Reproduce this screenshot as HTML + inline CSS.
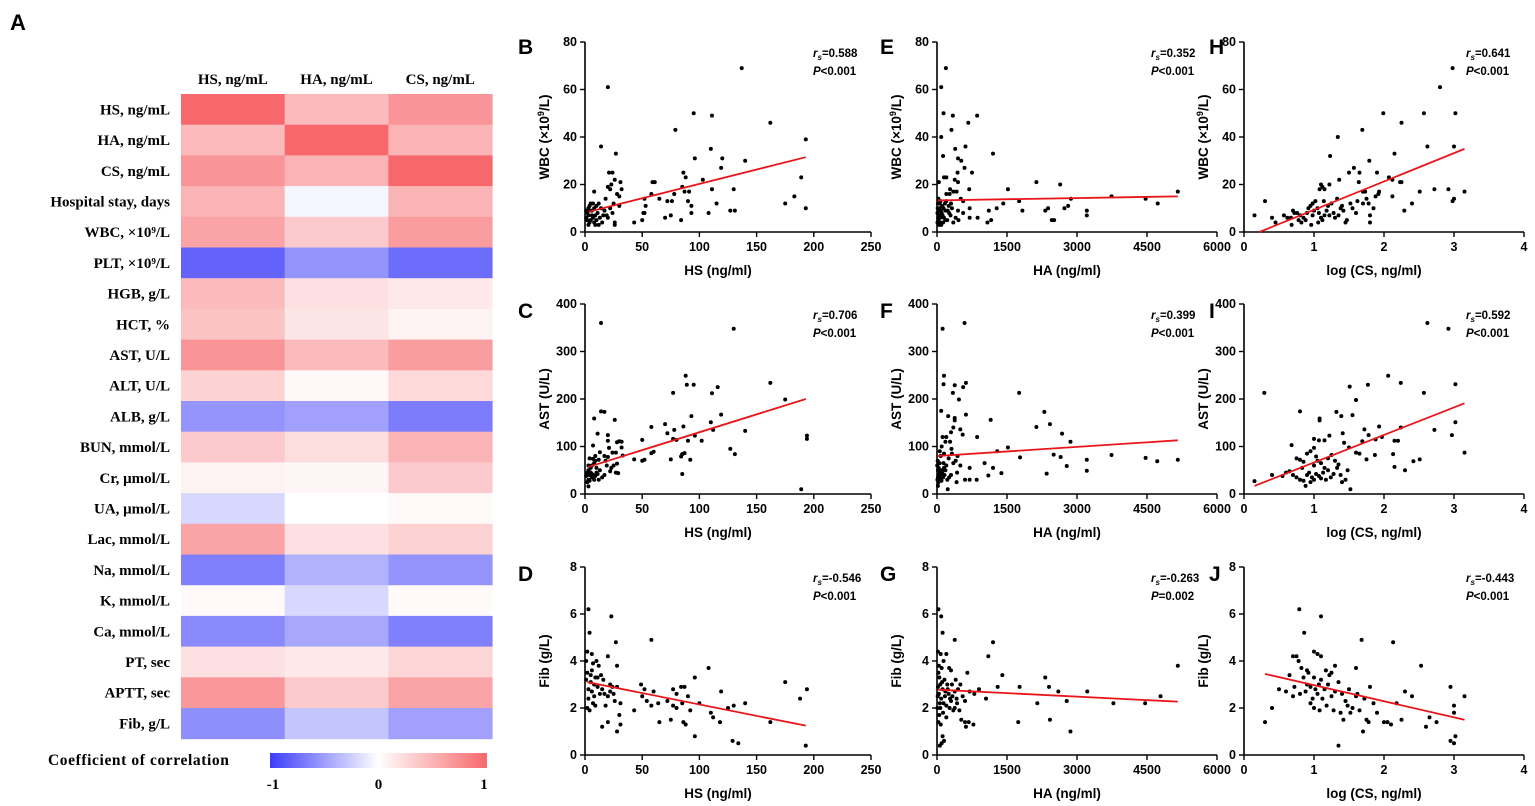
<!DOCTYPE html>
<html><head><meta charset="utf-8">
<style>
html,body{margin:0;padding:0;background:#fff;}
svg{display:block;}
</style></head>
<body>
<svg id="fig" width="1535" height="806" viewBox="0 0 1535 806" xmlns="http://www.w3.org/2000/svg"></svg>
<script>
// ===== Heatmap data =====
const heatCols = ["HS, ng/mL","HA, ng/mL","CS, ng/mL"];
const heatRows = ["HS, ng/mL","HA, ng/mL","CS, ng/mL","Hospital stay, days","WBC, \u00d710\u2079/L","PLT, \u00d710\u2079/L","HGB, g/L","HCT, %","AST, U/L","ALT, U/L","ALB, g/L","BUN, mmol/L","Cr, \u03bcmol/L","UA, \u03bcmol/L","Lac, mmol/L","Na, mmol/L","K, mmol/L","Ca, mmol/L","PT, sec","APTT, sec","Fib, g/L"];
const heatHS = [1,0.45,0.7,0.5,0.6,-0.8,0.45,0.4,0.7,0.3,-0.55,0.35,0.08,-0.2,0.6,-0.65,0.04,-0.6,0.2,0.68,-0.58];
const heatHA = [0.45,1,0.5,-0.05,0.35,-0.55,0.2,0.17,0.45,0.05,-0.48,0.22,0.06,0,0.2,-0.4,-0.2,-0.45,0.15,0.35,-0.3];
const heatCS = [0.7,0.5,1,0.5,0.65,-0.75,0.15,0.08,0.65,0.25,-0.67,0.5,0.35,0.04,0.3,-0.55,0.04,-0.65,0.28,0.6,-0.48];
const cbarTicks = [-1,0,1];

// ===== Scatter data =====
const bX=[137,20,95,111,162,79,193,14,27,110,96,120,140,119,26,21,24,103,86,88,85,189,59,61,31,32,23,20,22,58,78,87,91,111,130,183,175,115,65,52,30,25,8,12,18,10,5,3,2,4,6,7,5,8,9,3,1,2,4,6,8,11,13,15,17,19,22,26,26,30,43,50,51,53,52,70,75,72,76,84,90,93,93,108,127,131,193,9,4,1,7,10,14,16,12,20,24,28,3];
const bY=[69,61,50,49,46,43,39,36,33,35,31,31,30,27,22,25,25,22,25,23,19,23,21,21,21,18,20,19,18,16,16,17,17,18,18,15,12,12,14,14,15,12,17,12,14,11,12,10,8,9,7,6,5,4,3,7,6,5,4,9,10,8,6,4,9,7,10,4,3,11,4,5,8,11,8,6,7,13,13,5,13,8,11,8,9,9,10,7,11,9,12,5,10,7,3,6,8,16,3];
const cX=[14,130,88,89,95,162,77,111,116,175,14,17,119,93,8,26,70,86,58,110,78,112,140,72,11,20,194,194,30,32,28,50,77,80,90,96,102,20,7,32,21,127,13,24,27,60,58,85,87,131,17,20,33,43,50,52,75,92,84,4,7,9,12,19,25,28,85,189,5,3,2,4,6,8,3,2,3,5,7,9,10,11,12,15,17,22,27,29,6,8,10,1,4,6,13,18,23,3,9];
const cY=[360,348,249,230,230,234,213,212,225,199,174,173,167,164,159,156,147,142,141,151,135,135,133,128,127,124,123,116,111,110,109,114,116,114,112,123,112,112,102,98,97,95,88,87,87,89,86,84,86,84,80,78,81,73,70,72,73,72,79,75,74,70,72,60,60,64,42,10,55,50,45,40,35,30,30,25,16,45,40,38,45,42,30,35,40,48,45,44,60,65,55,38,28,42,50,70,55,60,80];
const dX=[3,23,4,58,27,2,6,10,20,1,7,12,28,108,175,96,2,5,9,14,16,8,11,22,24,28,49,52,60,84,87,119,194,77,80,90,3,6,13,17,20,26,31,50,54,58,64,72,77,80,85,92,100,110,112,118,125,130,140,162,188,2,4,7,15,20,30,31,28,43,65,75,86,88,96,129,134,193,5,8,11,15,18,22,1,3,6,9,25];
const dY=[6.2,5.9,5.2,4.9,4.8,4.4,4.3,4.0,4.2,4.0,3.9,3.8,3.8,3.7,3.1,3.3,3.5,3.4,3.3,3.4,3.2,3.0,2.9,3.0,2.9,2.9,3.0,2.8,2.7,2.9,2.9,2.7,2.8,2.8,2.6,2.5,2.8,2.7,2.6,2.6,2.5,2.3,2.2,2.5,2.3,2.1,2.2,2.3,2.1,2.0,2.2,1.9,2.2,1.8,1.6,1.4,2.0,2.1,2.2,1.4,2.4,2.0,1.9,2.2,1.2,1.4,1.7,1.3,1.0,1.9,1.4,1.5,1.4,1.3,0.8,0.6,0.5,0.4,3.1,2.5,3.3,2.8,2.1,2.7,3.2,2.4,3.6,2.1,2.6];
const eX=[190,90,140,340,860,670,310,90,130,390,610,450,520,1200,750,440,590,150,200,40,450,380,690,1520,2130,2640,5160,280,350,270,420,510,560,3740,4470,4730,2870,1760,1420,1280,1110,1830,2320,2380,2730,2810,3210,3210,2460,2510,1080,1160,870,700,700,560,450,400,350,460,20,50,80,100,120,150,180,30,60,90,10,40,70,110,140,170,200,230,260,290,320,30,60,15,25,45,35,75,200,250,300,10,130,220,180];
const eY=[69,61,50,49,49,46,43,40,32,35,36,31,30,33,25,25,27,23,23,21,21,22,18,18,21,20,17,18,17,16,17,14,13,15,14,12,14,13,12,10,9,9,9,10,10,11,9,7,5,5,4,5,6,6,10,8,9,6,4,5,12,10,9,8,7,6,5,5,4,3,8,7,6,11,10,12,13,9,8,7,10,14,12,10,6,3,9,13,16,11,12,4,4,5,9];
const fX=[590,120,150,140,380,340,620,1760,560,470,90,2300,380,620,240,2420,2130,380,1150,350,500,550,860,1520,2680,2860,300,200,120,100,80,1290,1020,1780,2500,2650,2780,3210,3210,3740,4470,4720,5160,1380,1100,2350,1200,700,850,600,700,420,230,430,400,320,250,200,150,100,60,40,20,10,30,50,70,90,110,130,160,180,220,260,300,20,5,15,35,55,75,150,280,310,440,500,350,180,140,60,20,45,95];
const fY=[360,348,249,231,229,213,234,213,225,199,175,173,160,167,164,147,141,155,156,140,136,125,120,98,127,110,130,120,120,100,80,90,65,77,83,78,59,72,49,82,76,69,72,44,39,43,55,55,30,30,30,25,10,45,70,85,75,60,55,50,45,40,35,30,25,30,35,40,45,35,40,50,30,35,40,17,60,70,55,65,50,85,110,95,80,60,65,110,65,90,50,35,28];
const gX=[30,90,120,380,1200,1100,5160,20,80,200,140,260,650,1400,2320,30,100,300,50,160,400,1300,1770,2400,2600,3220,900,500,220,70,120,180,250,330,420,550,600,800,1050,2150,2780,3780,4460,4790,40,90,140,200,270,350,430,480,520,600,620,680,780,1740,2420,2860,30,80,120,150,100,60,10,20,60,110,170,230,300,380,450,40,70,130,200,280,320,15,50,380,700];
const gY=[6.2,5.9,5.2,4.9,4.8,4.2,3.8,4.4,4.3,4.3,4.0,3.7,3.5,3.4,3.3,3.5,3.7,3.6,3.3,3.2,3.2,2.9,2.9,2.9,2.7,2.7,2.8,3.0,3.0,3.0,2.8,2.7,2.6,2.5,2.4,2.5,2.3,2.6,2.4,2.2,2.3,2.2,2.2,2.5,2.6,2.4,2.2,2.1,2.0,1.9,2.2,1.9,1.5,1.4,1.2,1.4,1.3,1.4,1.5,1.0,1.4,1.3,0.8,0.6,0.5,0.4,2.0,2.9,2.2,3.1,2.5,2.8,2.3,2.7,2.8,3.8,2.0,1.8,1.6,2.4,3.0,2.5,1.7,2.0,2.7];
const hX=[2.98,2.8,1.99,2.57,3.02,2.25,1.69,1.34,2.62,3.0,1.23,1.79,2.15,1.57,1.5,1.65,1.9,1.36,1.64,2.07,2.12,2.23,2.25,1.22,1.1,1.12,1.08,1.15,1.7,1.73,1.92,1.93,2.12,2.51,2.72,2.92,3.15,3.0,2.98,2.4,2.29,0.3,0.15,0.4,0.45,0.57,0.67,0.68,0.7,0.76,0.8,0.85,0.9,0.92,0.95,0.98,1.0,1.02,1.05,1.07,1.1,1.12,1.15,1.18,1.2,1.25,1.28,1.3,1.33,1.38,1.42,1.45,1.47,1.52,1.6,1.62,1.75,1.78,1.8,1.8,1.85,1.88,0.82,0.88,0.96,1.06,0.72,0.78,0.62,1.14,1.22,1.35,1.4,1.55,1.7,0.98];
const hY=[69,61,50,50,50,46,43,40,36,36,32,30,33,27,25,25,25,22,21,23,22,21,21,20,20,19,18,18,17,17,16,17,15,17,18,18,17,14,13,12,9,13,7,6,4,7,6,3,9,8,7,6,8,10,11,12,9,13,10,8,6,5,7,9,11,12,8,6,14,10,9,4,5,12,8,13,14,12,7,4,10,15,4,5,3,4,8,5,6,13,7,7,11,10,12,7];
const iX=[2.62,2.92,2.06,2.24,3.02,1.77,1.51,2.57,0.29,1.6,0.8,1.32,1.39,1.55,1.08,1.08,1.93,2.24,1.72,1.41,1.22,1.97,2.72,3.02,2.97,1.0,1.07,1.15,1.69,2.15,2.2,1.43,1.78,1.88,0.68,1.0,0.95,0.9,1.25,1.5,1.6,1.65,1.87,2.13,3.15,0.75,0.8,0.85,1.03,1.05,1.1,1.2,1.3,1.35,1.75,2.42,2.51,0.15,0.4,0.55,0.65,0.7,0.75,0.8,0.85,0.88,0.9,0.93,0.97,1.0,1.03,1.07,1.1,1.13,1.17,1.2,1.24,1.28,1.33,1.38,1.45,1.48,1.52,1.4,2.15,2.3,0.6,0.83,1.0,1.15,0.95];
const iY=[360,348,249,234,231,230,226,213,213,198,174,173,164,166,159,155,142,140,136,128,123,120,135,151,124,116,113,113,111,112,112,108,124,115,103,97,90,85,82,98,87,85,82,84,87,75,72,68,79,70,65,75,70,62,73,69,73,27,40,38,48,40,35,30,28,17,40,45,35,30,42,38,33,45,30,50,35,42,55,40,30,50,10,25,57,50,45,55,60,55,25];
const jX=[0.79,1.1,0.86,1.68,2.13,1.0,1.05,0.7,0.75,1.1,0.78,0.82,0.9,1.3,2.53,1.25,1.6,0.3,0.4,0.5,0.6,0.7,0.8,0.85,0.9,0.95,1.0,1.05,1.1,1.15,1.2,1.25,1.3,1.35,1.4,1.45,1.5,1.55,1.6,1.65,1.7,1.72,1.75,1.8,1.85,1.9,2.0,2.05,2.1,2.18,2.25,2.3,2.4,2.6,2.65,2.75,2.95,3.0,3.0,2.95,3.0,3.02,3.15,1.35,0.95,1.0,1.02,1.08,1.12,1.18,1.22,1.28,1.38,1.42,1.48,0.88,0.92,0.98,1.07,1.17,1.52,1.62,1.78,0.72,0.65];
const jY=[6.2,5.9,5.2,4.9,4.8,4.4,4.3,4.2,4.2,4.2,4.0,3.7,3.6,3.8,3.8,3.5,3.7,1.4,2.0,2.8,2.7,2.5,2.6,3.3,3.0,2.9,3.3,2.6,3.2,2.8,3.0,2.5,2.7,3.1,2.6,2.3,2.8,2.0,2.5,1.9,1.0,2.4,1.5,2.9,2.2,1.8,1.4,1.4,1.3,2.2,1.5,2.7,2.5,1.2,1.6,1.4,2.9,2.1,1.8,0.6,0.5,0.8,2.5,0.4,2.2,2.0,2.8,1.9,2.4,2.1,3.4,1.9,1.8,1.5,2.1,2.7,3.5,2.4,3.0,3.6,1.8,2.6,1.4,2.9,3.4];
// regression line endpoints [x0,y0,x1,y1] in data units
const fitB=[3,8.5,193,31.5], fitC=[3,57,193,200], fitD=[2,3.1,193,1.25];
const fitE=[20,13.3,5160,15.0], fitF=[20,80,5160,113], fitG=[20,2.78,5160,2.27];
const fitH=[0.22,0,3.15,35], fitI=[0.15,17,3.15,191], fitJ=[0.3,3.45,3.15,1.5];
const ticksHS=[0,50,100,150,200,250], ticksHA=[0,1500,3000,4500,6000], ticksCS=[0,1,2,3,4];
const ticksWBC=[0,20,40,60,80], ticksAST=[0,100,200,300,400], ticksFib=[0,2,4,6,8];
const statR=["0.588","0.706","-0.546","0.352","0.399","-0.263","0.641","0.592","-0.443"];
const statP=["<0.001","<0.001","<0.001","<0.001","<0.001","=0.002","<0.001","<0.001","<0.001"];

const NS="http://www.w3.org/2000/svg";
const svg=document.getElementById('fig');
function mk(tag,attrs,parent){const e=document.createElementNS(NS,tag);for(const k in attrs)e.setAttribute(k,attrs[k]);(parent||svg).appendChild(e);return e;}
function txt(s,attrs,parent){const e=mk('text',attrs,parent);e.textContent=s;return e;}

// ===== Heatmap =====
function heatColor(v){
  let r,g,b;
  if(v>=0){r=255+(246-255)*v;g=255+(104-255)*v;b=255+(108-255)*v;}
  else{const t=-v;r=255+(60-255)*t;g=255+(60-255)*t;b=255+(250-255)*t;}
  return `rgb(${Math.round(r)},${Math.round(g)},${Math.round(b)})`;
}
const HX0=181, HW=103.7, HY0=94, HH=30.7;
const serif='"Liberation Serif", serif';
const heatG=mk('g',{});


txt('A',{x:10,y:30,'font-family':'"Liberation Sans", sans-serif','font-weight':'bold','font-size':22},svg);
const heatVals=[heatHS,heatHA,heatCS];
heatCols.forEach((c,ci)=>{
  const t=txt(c,{x:HX0+HW*(ci+0.5),y:84,'text-anchor':'middle','font-family':serif,'font-weight':'bold','font-size':15},heatG);
  
  
});
heatRows.forEach((r,ri)=>{
  const t=txt(r,{x:170,y:HY0+HH*ri+HH/2+5,'text-anchor':'end','font-family':serif,'font-weight':'bold','font-size':15},heatG);
  
  
  heatVals.forEach((arr,ci)=>{
    const rc=mk('rect',{x:HX0+HW*ci,y:HY0+HH*ri,width:HW+0.5,height:HH+0.5,fill:heatColor(arr[ri])},heatG);
    
    
  });
});
// colorbar
const defs=mk('defs',{});
const lg=mk('linearGradient',{id:'cb',x1:0,x2:1,y1:0,y2:0},defs);
[-1,-0.5,0,0.5,1].forEach(v=>mk('stop',{offset:((v+1)/2*100)+'%','stop-color':heatColor(v)},lg));
const cbX0=270,cbX1=487;
const cb=mk('rect',{x:cbX0,y:753,width:cbX1-cbX0,height:15,fill:'url(#cb)'});


const cbt=txt('Coefficient of correlation',{x:48,y:765,'font-family':serif,'font-weight':'bold','font-size':15.5,'letter-spacing':0.6});


cbarTicks.forEach(v=>{
  const t=txt(String(v),{x:cbX0+(v+1)/2*(cbX1-cbX0-6)+3,y:789,'text-anchor':'middle','font-family':serif,'font-weight':'bold','font-size':15});
  
  
});

// ===== Scatter panels =====
const sans='"Liberation Sans", sans-serif';
function panel(cfg){
  const g=mk('g',{});
  
  
  const xmin=cfg.xt[0],xmax=cfg.xt[cfg.xt.length-1],ymin=cfg.yt[0],ymax=cfg.yt[cfg.yt.length-1];
  const sx=v=>cfg.x0+(v-xmin)/(xmax-xmin)*(cfg.x1-cfg.x0);
  const sy=v=>cfg.yb-(v-ymin)/(ymax-ymin)*(cfg.yb-cfg.yt0);
  const lbl=txt(cfg.letter,{x:cfg.lx,y:cfg.ly,'font-family':sans,'font-weight':'bold','font-size':21},g);
  
  
  const ax=mk('path',{d:`M${cfg.x0},${cfg.yt0}V${cfg.yb}H${cfg.x1}`,fill:'none',stroke:'#000','stroke-width':1.6},g);
  
  
  cfg.xt.forEach(v=>{
    mk('line',{x1:sx(v),x2:sx(v),y1:cfg.yb,y2:cfg.yb+5,stroke:'#000','stroke-width':1.4},g);
    const t=txt(String(v),{x:sx(v),y:cfg.yb+19,'text-anchor':'middle','font-family':sans,'font-weight':'bold','font-size':12.5},g);
    
    
  });
  cfg.yt.forEach(v=>{
    mk('line',{x1:cfg.x0-5,x2:cfg.x0,y1:sy(v),y2:sy(v),stroke:'#000','stroke-width':1.4},g);
    const t=txt(String(v),{x:cfg.x0-8,y:sy(v)+4,'text-anchor':'end','font-family':sans,'font-weight':'bold','font-size':12.5},g);
    
    
  });
  const xt=txt(cfg.xlab,{x:(cfg.x0+cfg.x1)/2-10,y:cfg.yb+43,'text-anchor':'middle','font-family':sans,'font-weight':'bold','font-size':13.5},g);
  
  
  const ycx=cfg.x0-36, ycy=(cfg.yt0+cfg.yb)/2;
  const yt=mk('text',{x:ycx,y:ycy,transform:`rotate(-90 ${ycx} ${ycy})`,'text-anchor':'middle','font-family':sans,'font-weight':'bold','font-size':13.5},g);
  
  
  if(cfg.sup){
    const a=mk('tspan',{},yt);a.textContent=cfg.ylab[0];
    const b=mk('tspan',{dy:-5,'font-size':9},yt);b.textContent=cfg.sup;
    const c=mk('tspan',{dy:5},yt);c.textContent=cfg.ylab[1];
  } else yt.textContent=cfg.ylab;
  cfg.xs.forEach((xv,i)=>{
    const d=mk('circle',{cx:sx(xv),cy:sy(cfg.ys[i]),r:2,fill:'#000'},g);
    
    
  });
  const f=cfg.fit;
  const ln=mk('line',{x1:sx(f[0]),y1:sy(f[1]),x2:sx(f[2]),y2:sy(f[3]),stroke:'#e8161b','stroke-width':1.8},g);
  
  
  const sxp=cfg.x1-cfg.so;
  const s1=mk('text',{x:sxp,y:cfg.yt0+15,'font-family':sans,'font-weight':'bold','font-size':11.5},g);
  
  
  const r1=mk('tspan',{'font-style':'italic'},s1);r1.textContent='r';
  const r2=mk('tspan',{'font-style':'italic','font-size':8,dy:3},s1);r2.textContent='s';
  const r3=mk('tspan',{dy:-3},s1);r3.textContent='='+statR[cfg.idx];
  const s2=mk('text',{x:sxp,y:cfg.yt0+33,'font-family':sans,'font-weight':'bold','font-size':11.5},g);
  
  
  const p1=mk('tspan',{'font-style':'italic'},s2);p1.textContent='P';
  const p2=mk('tspan',{},s2);p2.textContent=statP[cfg.idx];
}
const cols=[{x0:585,x1:871,lx:518,so:58},{x0:937,x1:1217,lx:880,so:66},{x0:1244,x1:1524,lx:1209,so:58}];
const rows=[{yt0:42,yb:232,ly:54},{yt0:304,yb:494,ly:318},{yt0:567,yb:755,ly:581}];
const xinfo=[{xt:ticksHS,xlab:'HS (ng/ml)'},{xt:ticksHA,xlab:'HA (ng/ml)'},{xt:ticksCS,xlab:'log (CS, ng/ml)'}];
const yinfo=[{yt:ticksWBC,ylab:['WBC (\u00d710','/L)'],sup:'9'},{yt:ticksAST,ylab:'AST (U/L)'},{yt:ticksFib,ylab:'Fib (g/L)'}];
const series=[[bX,bY,fitB,'B'],[cX,cY,fitC,'C'],[dX,dY,fitD,'D'],[eX,eY,fitE,'E'],[fX,fY,fitF,'F'],[gX,gY,fitG,'G'],[hX,hY,fitH,'H'],[iX,iY,fitI,'I'],[jX,jY,fitJ,'J']];
series.forEach((s,k)=>{
  const ci=Math.floor(k/3), ri=k%3;
  panel(Object.assign({name:'scatter-panel-'+s[3].toLowerCase(),letter:s[3],xs:s[0],ys:s[1],fit:s[2],idx:k},cols[ci],rows[ri],xinfo[ci],yinfo[ri]));
});
</script>
</body></html>
